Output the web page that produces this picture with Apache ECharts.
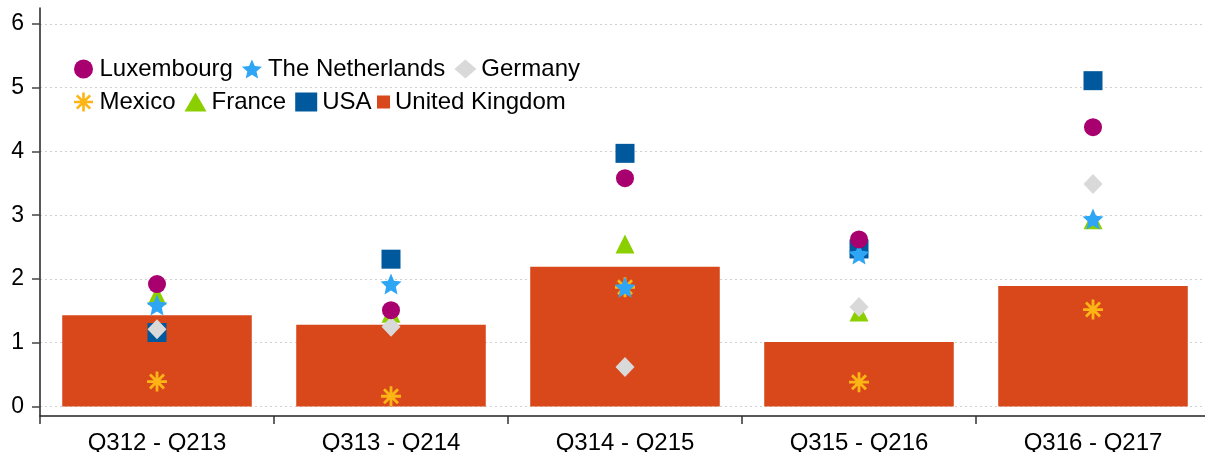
<!DOCTYPE html>
<html>
<head>
<meta charset="utf-8">
<script src="https://cdn.jsdelivr.net/npm/echarts@6/dist/echarts.min.js"></script>
<style>
  html, body { margin: 0; padding: 0; background: #ffffff; }
  #chart { width: 1205px; height: 452px; }
</style>
</head>
<body>
<div id="chart"></div>
<script>
// categories (x axis)
var categories = ['Q312 - Q213', 'Q313 - Q214', 'Q314 - Q215', 'Q315 - Q216', 'Q316 - Q217'];
var yTicks = [0, 1, 2, 3, 4, 5, 6];

// values
var unitedKingdom = [1.43, 1.28, 2.19, 1.01, 1.89];
var luxembourg = [1.92, 1.51, 3.58, 2.62, 4.38];
var netherlands = [1.59, 1.92, 1.87, 2.39, 2.94];
var germany = [1.21, 1.25, 0.62, 1.56, 3.49];
var mexico = [0.39, 0.16, 1.87, 0.38, 1.52];
var france = [1.74, 1.46, 2.55, 1.48, 2.93];
var usa = [1.16, 2.31, 3.97, 2.47, 5.11];

var FONT = '"Liberation Sans", Arial, sans-serif';

// star and asterisk markers
var starPath = 'path://M12 2L14.9 8.6L22 9.3L16.6 14L18.2 21L12 17.3L5.8 21L7.4 14L2 9.3L9.1 8.6Z';
var asteriskPath = 'path://M8.6 0L11.4 0L11.4 20L8.6 20Z M0 8.6L20 8.6L20 11.4L0 11.4Z' +
  'M2 4L4 2L18 16L16 18Z M16 2L18 4L4 18L2 16Z';

function scatter(name, data, symbol, size, color) {
  return {
    name: name,
    type: 'scatter',
    data: data,
    symbol: symbol,
    symbolSize: size,
    itemStyle: { color: color, opacity: 1 },
    emphasis: { disabled: true }
  };
}

var legendText = { color: '#000000', fontSize: 24, fontFamily: FONT };

var option = {
  backgroundColor: '#ffffff',
  animation: false,
  grid: { left: 40, right: -5, top: 8, bottom: 36, outerBoundsMode: 'none', containLabel: false },
  legend: [{
    left: 69, top: 52,
    itemWidth: 22, itemHeight: 19, itemGap: 9,
    textStyle: legendText,
    data: ['Luxembourg', 'The Netherlands', 'Germany']
  }, {
    left: 69, top: 85,
    itemWidth: 22, itemHeight: 19, itemGap: 9,
    textStyle: legendText,
    data: ['Mexico', 'France', 'USA']
  }, {
    left: 372, top: 85,
    itemWidth: 13, itemHeight: 13,
    textStyle: legendText,
    data: [{ name: 'United Kingdom', icon: 'rect' }]
  }],
  xAxis: {
    type: 'category',
    data: categories,
    axisLine: { onZero: false, lineStyle: { color: '#222222', width: 1.5 } },
    axisTick: { show: true, alignWithLabel: false, interval: 0, length: 8, lineStyle: { color: '#333333', width: 1.5 } },
    axisLabel: { color: '#000000', fontSize: 24, fontFamily: FONT, margin: 15 }
  },
  yAxis: {
    type: 'value',
    min: -0.15,
    max: 6.25,
    axisLine: { show: true, lineStyle: { color: '#222222', width: 1.5 } },
    axisTick: { show: true, length: 8, customValues: yTicks, lineStyle: { color: '#444444', width: 1.5 } },
    axisLabel: { color: '#000000', fontSize: 23, fontFamily: FONT, margin: 16, customValues: yTicks },
    splitLine: { show: true, lineStyle: { color: '#d0d0d0', type: [2, 3], width: 1 } }
  },
  series: [
    {
      name: 'United Kingdom',
      type: 'bar',
      data: unitedKingdom,
      barCategoryGap: '19%',
      itemStyle: { color: '#d8481b' },
      emphasis: { disabled: true }
    },
    scatter('USA', usa, 'rect', 19, '#00599c'),
    scatter('France', france, 'triangle', 19, '#8ccf00'),
    scatter('Mexico', mexico, asteriskPath, 20, '#fdb515'),
    scatter('Germany', germany, 'diamond', [19, 20], '#d9d9d9'),
    scatter('The Netherlands', netherlands, starPath, 21, '#2ea6f5'),
    scatter('Luxembourg', luxembourg, 'circle', 18, '#a8006f')
  ]
};

var chart = echarts.init(document.getElementById('chart'), null, { renderer: 'canvas' });
chart.setOption(option);
</script>
</body>
</html>
